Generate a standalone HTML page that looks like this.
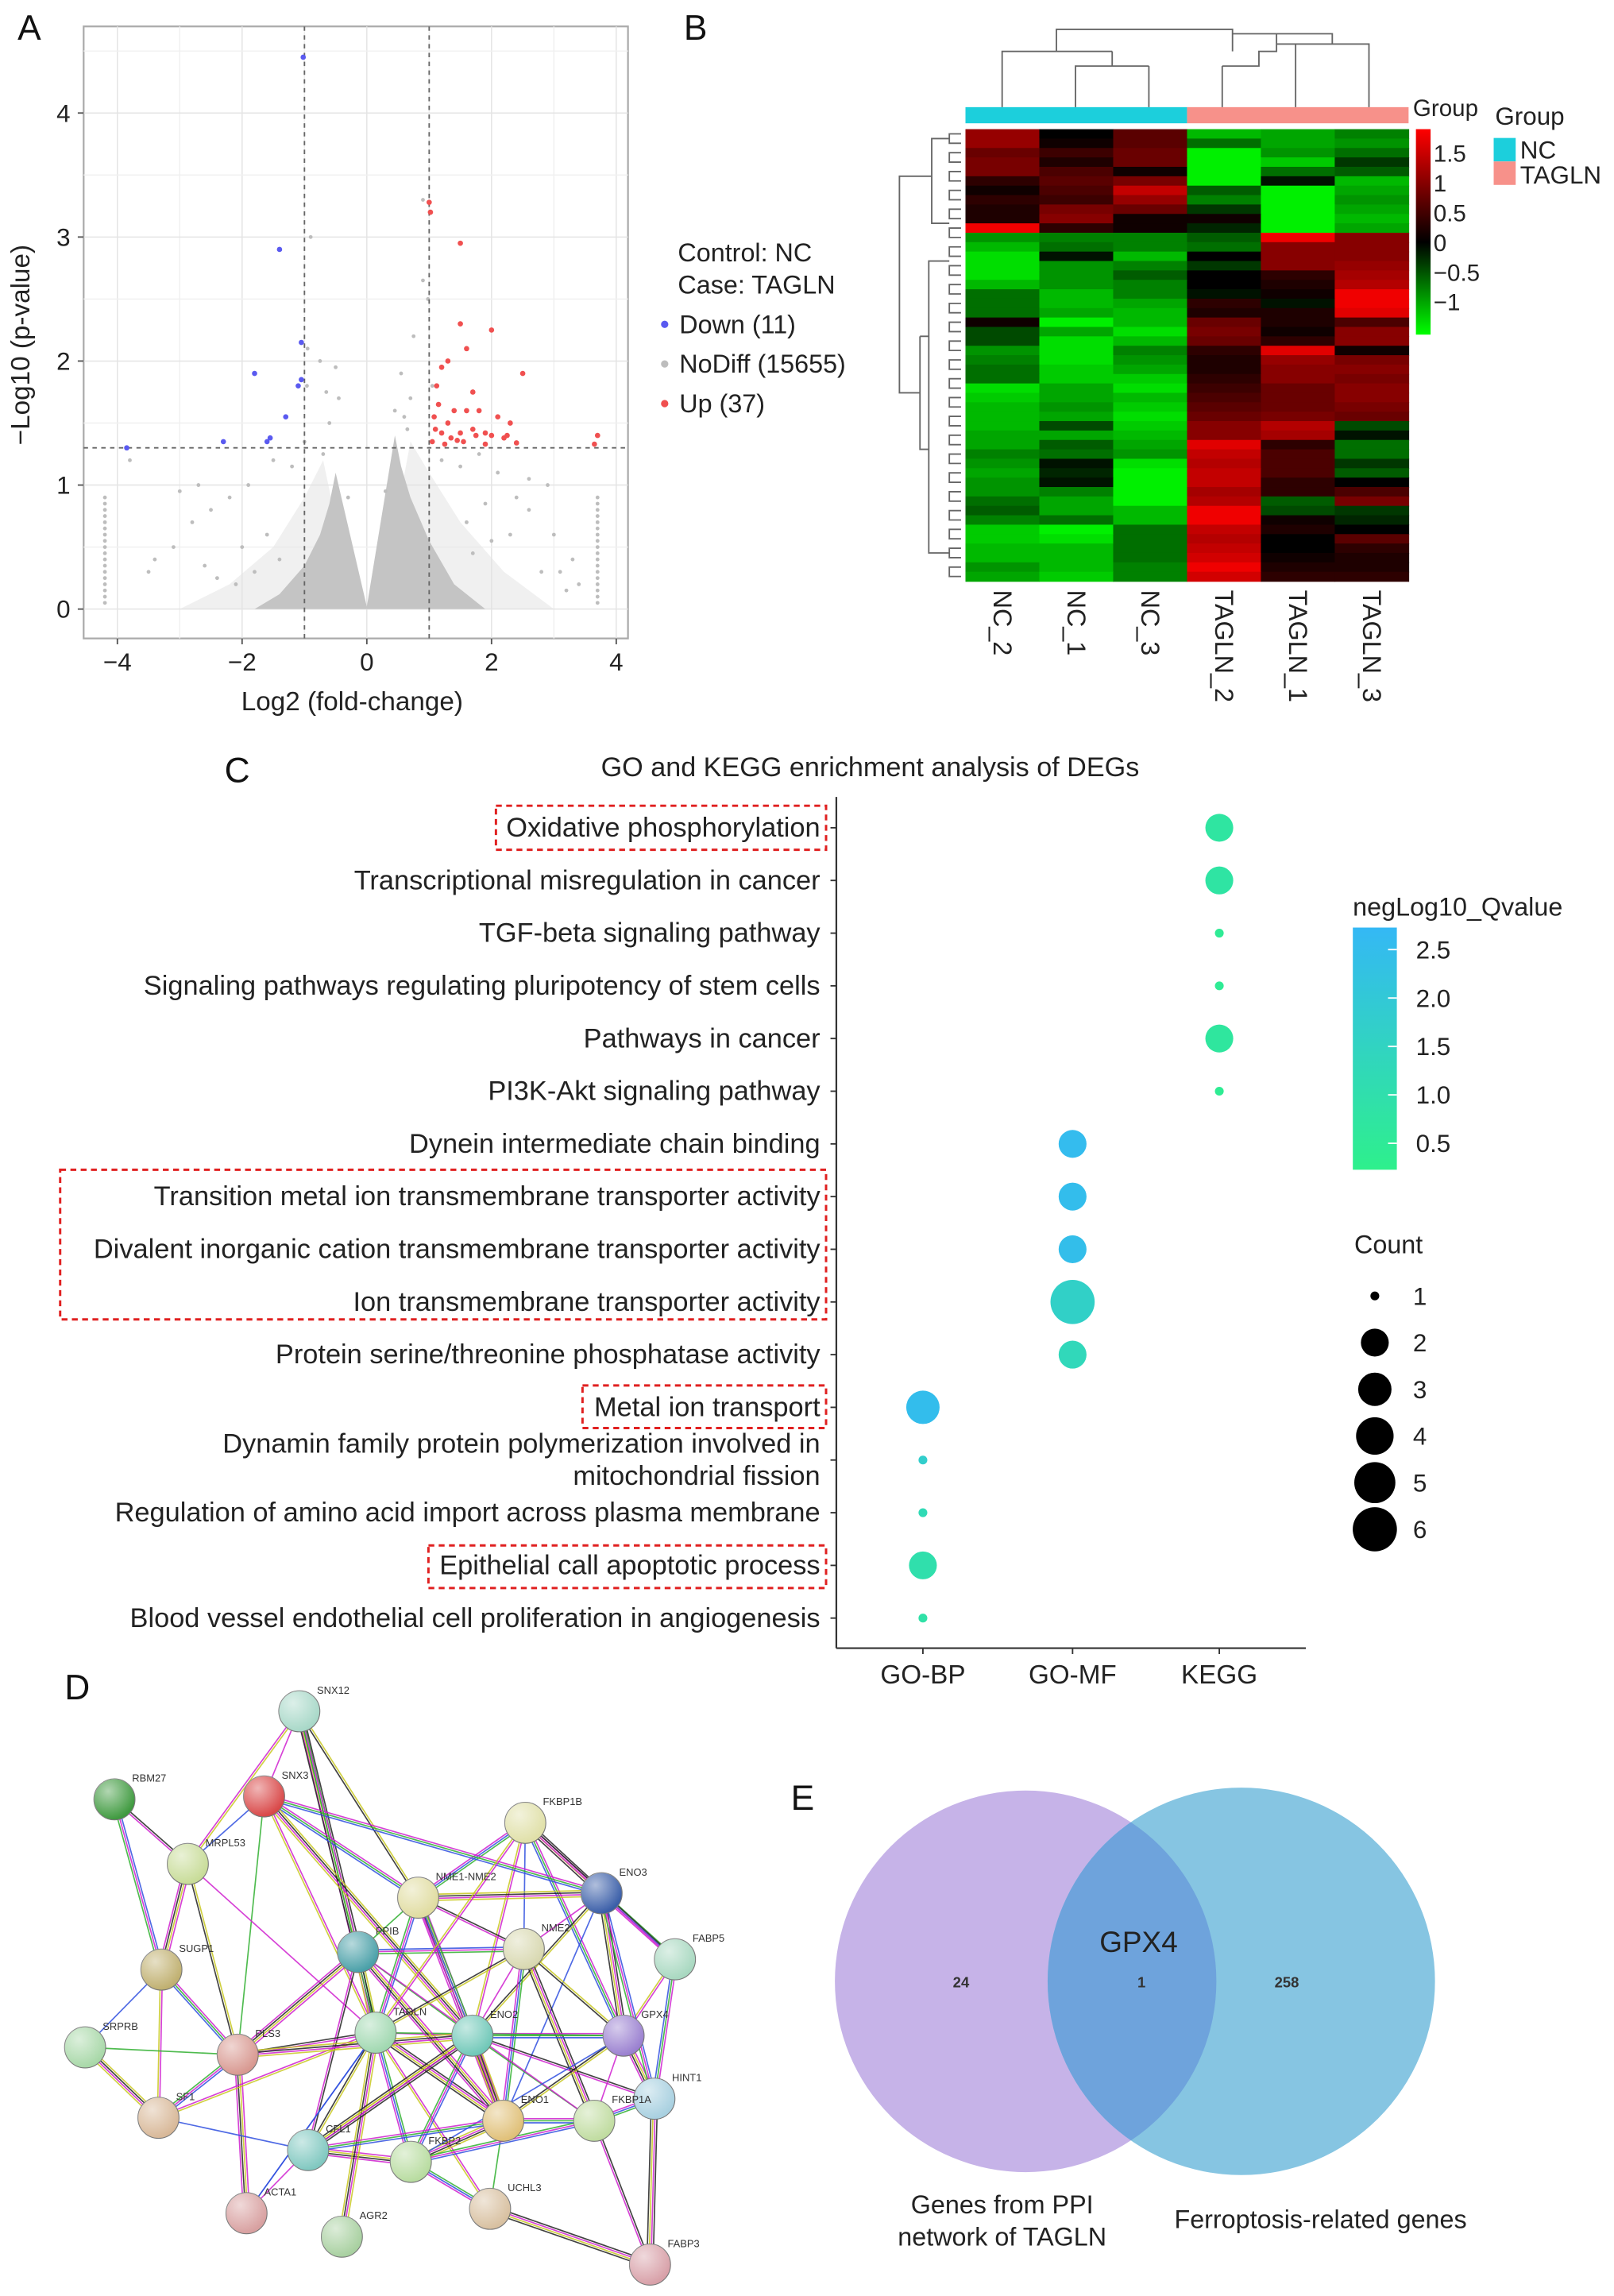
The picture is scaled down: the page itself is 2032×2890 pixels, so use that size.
<!DOCTYPE html>
<html><head><meta charset="utf-8"><style>
html,body{margin:0;padding:0;background:#fff}
svg{display:block}
text{font-family:"Liberation Sans",sans-serif}
</style></head><body>
<svg id="fig" xmlns="http://www.w3.org/2000/svg" width="2032" height="2890" viewBox="0 0 1100 1564.4" preserveAspectRatio="none">
<g id="pA"></g>
<g id="pB"></g>
<g id="pC"></g>
<g id="pD"></g>
<g id="pE"></g>
</svg>
<script>
// ---------- Panel A data ----------
const downX=[-1.02,-1.4,-1.05,-1.8,-1.05,-1.1,-1.3,-1.55,-1.6,-2.3,-3.85];
const downY=[4.45,2.9,2.15,1.9,1.85,1.8,1.55,1.38,1.35,1.35,1.3];
const upX=[1.0,1.02,1.5,1.5,2.0,1.6,1.3,1.2,2.5,1.7,1.4,1.6,1.8,2.1,2.3,1.1,1.2,1.5,1.9,2.0,2.2,1.05,3.7,1.3,1.15,1.7,2.25,1.35,1.08,1.25,1.45,1.9,2.4,1.12,1.55,1.75,3.65];
const upY=[3.28,3.2,2.95,2.3,2.25,2.1,2.0,1.95,1.9,1.75,1.6,1.6,1.6,1.55,1.5,1.45,1.42,1.42,1.42,1.4,1.38,1.35,1.4,1.5,1.65,1.45,1.4,1.38,1.55,1.33,1.36,1.33,1.34,1.8,1.35,1.4,1.33];
const grayX=[-0.95,-0.75,-0.5,0.55,0.75,0.9,-0.45,0.45,-2.2,-2.8,-3.1,-1.9,-1.5,-2.5,2.1,2.6,3.0,1.8,1.5,2.4,-3.5,3.3,-1.2,1.2,-0.3,0.3,-1.6,1.6,-2.0,2.0,-2.6,2.8,-0.6,0.6,0.98,-0.96,0.9,-0.9,-3.8,-3.4,-2.7,-2.1,-1.4,2.9,3.1,3.4,2.3,1.7,-0.7,-0.65,0.65,0.7,-1.0,1.05,-2.4,2.6,-1.8,1.9,-3.0,3.2];
const grayY=[2.1,2.0,1.95,1.9,2.2,3.3,1.7,1.6,0.9,0.7,0.5,1.0,1.2,0.8,1.1,0.8,0.6,1.25,1.15,0.9,0.3,0.4,1.15,1.2,0.9,0.95,0.6,0.7,0.5,0.55,0.35,0.3,1.5,1.55,2.5,1.8,2.65,3.0,1.2,0.4,1.0,0.2,0.4,1.0,0.3,0.2,0.6,0.45,1.25,1.75,1.45,1.7,1.35,1.8,0.25,1.05,0.3,0.85,0.95,0.15];
const colXL=-4.2, colXR=3.7;
const colY=[0.05,0.1,0.15,0.2,0.25,0.3,0.35,0.4,0.45,0.5,0.55,0.6,0.65,0.7,0.75,0.8,0.85,0.9];
const haloX=[-3.0,-2.2,-1.5,-1.0,-0.7,-0.2,0,0.2,0.7,1.0,1.5,2.2,3.0];
const haloY=[0,0.2,0.5,0.9,1.2,0,0,0,1.35,1.1,0.7,0.3,0];
const envX=[-1.8,-1.4,-1.0,-0.75,-0.6,-0.5,0,0.45,0.55,0.7,1.0,1.4,1.9];
const envY=[0,0.12,0.35,0.6,0.85,1.1,0.02,1.4,1.15,0.9,0.55,0.2,0];
const xTicksA=[-4,-2,0,2,4], yTicksA=[0,1,2,3,4];

// ---------- Panel B data ----------
const hmCols=["NC_2","NC_1","NC_3","TAGLN_2","TAGLN_1","TAGLN_3"];
const hmVals=[
[1.0,0.0,0.6,-1.0,-0.9,-0.7],[1.0,0.1,0.6,-0.6,-0.9,-0.8],[0.7,0.4,0.7,-1.3,-0.8,-0.6],[0.8,0.2,0.7,-1.3,-1.1,-0.3],[0.8,0.5,0.1,-1.4,-0.6,-0.5],[0.3,0.6,0.8,-1.4,-0.1,-1.0],[0.1,0.5,1.3,-0.5,-1.3,-0.9],[0.3,0.4,1.0,-0.7,-1.3,-0.8],[0.2,0.8,0.7,-0.3,-1.3,-0.9],[0.2,0.9,0.1,0.1,-1.3,-1.0],[1.6,0.3,0.1,-0.2,-1.3,-0.9],
[-0.8,-0.7,-0.7,-0.5,1.6,0.9],[-1.0,-0.6,-0.7,-0.6,0.9,0.9],[-1.2,-0.1,-1.0,0.0,0.9,0.9],[-1.2,-0.8,-0.7,-0.3,0.9,1.0],[-1.2,-0.8,-0.5,0.0,0.3,1.1],[-1.0,-0.8,-0.7,0.0,0.2,1.2],[-0.6,-1.0,-0.7,-0.1,0.1,1.6],[-0.6,-1.0,-0.9,0.3,-0.1,1.6],[-0.6,-0.9,-1.0,0.2,0.2,1.5],
[0.1,-1.4,-1.0,0.7,0.2,0.5],[-0.4,-0.9,-1.2,0.8,0.1,0.9],[-0.4,-1.2,-1.0,0.7,0.3,0.9],[-0.8,-1.2,-0.7,0.3,1.5,0.1],[-0.7,-1.2,-0.8,0.2,1.0,0.8],[-0.6,-1.1,-0.9,0.2,0.9,0.9],[-0.6,-1.1,-1.1,0.3,0.9,0.8],[-1.2,-0.9,-1.2,0.4,0.7,0.9],[-1.1,-0.9,-1.0,0.5,0.7,0.9],[-1.0,-0.8,-1.1,0.6,0.7,0.8],
[-1.0,-0.9,-1.2,0.7,0.8,0.7],[-1.0,-0.4,-1.1,0.9,1.2,-0.4],[-0.9,-0.9,-1.0,0.9,1.1,-0.1],[-0.9,-0.5,-0.9,1.5,0.3,-0.6],[-0.7,-0.6,-0.8,1.3,0.5,-0.6],[-0.8,-0.1,-1.2,1.2,0.5,-0.3],[-0.9,-0.2,-1.3,1.3,0.5,-0.5],[-0.8,-0.1,-1.4,1.3,0.3,0.0],[-0.8,-0.7,-1.3,1.1,0.3,0.5],
[-0.6,-0.9,-1.3,1.2,-0.5,0.8],[-0.5,-0.9,-1.0,1.6,-0.4,-0.3],[-0.7,-0.6,-1.0,1.6,0.1,-0.2],[-1.1,-1.3,-0.6,1.3,0.2,0.0],[-1.1,-1.2,-0.6,1.2,0.0,0.6],[-1.0,-1.0,-0.6,1.3,0.0,0.3],[-1.0,-1.0,-0.6,1.4,0.1,0.2],[-0.8,-1.0,-0.7,1.6,0.2,0.2],[-0.9,-1.1,-0.7,1.4,0.3,0.3]];
const hmLegendTicks=[1.5,1,0.5,0,-0.5,-1];
const hmLegendLabels=["1.5","1","0.5","0","\u22120.5","\u22121"];

// ---------- Panel C data ----------
const terms=["Oxidative phosphorylation","Transcriptional misregulation in cancer","TGF-beta signaling pathway","Signaling pathways regulating pluripotency of stem cells","Pathways in cancer","PI3K-Akt signaling pathway","Dynein intermediate chain binding","Transition metal ion transmembrane transporter activity","Divalent inorganic cation transmembrane transporter activity","Ion transmembrane transporter activity","Protein serine/threonine phosphatase activity","Metal ion transport","Dynamin family protein polymerization involved in|mitochondrial fission","Regulation of amino acid import across plasma membrane","Epithelial call apoptotic process","Blood vessel endothelial cell proliferation in angiogenesis"];
const termCat=["KEGG","KEGG","KEGG","KEGG","KEGG","KEGG","GO-MF","GO-MF","GO-MF","GO-MF","GO-MF","GO-BP","GO-BP","GO-BP","GO-BP","GO-BP"];
const termCount=[2,2,1,1,2,1,2,2,2,6,2,3,1,1,2,1];
const termQ=[0.75,0.8,0.5,0.5,0.7,0.45,2.45,2.4,2.35,1.6,1.3,2.4,1.7,1.2,1.0,0.9];
const cats=["GO-BP","GO-MF","KEGG"];
const qTicks=[2.5,2.0,1.5,1.0,0.5];
const countTicks=[1,2,3,4,5,6];

// ---------- Panel D data ----------
const nodeNames=["SNX12","RBM27","SNX3","MRPL53","FKBP1B","NME1-NME2","ENO3","FABP5","PPIB","NME2","SUGP1","SRPRB","PLS3","TAGLN","ENO2","GPX4","HINT1","SF1","ENO1","FKBP1A","CFL1","FKBP2","ACTA1","AGR2","UCHL3","FABP3"];
const nodeX=[204,78,180,128,358,285,410,460,244,357,110,58,162,256,322,425,446,108,343,405,210,280,168,233,334,443];
const nodeY=[1166,1226,1224,1270,1242,1293,1290,1335,1330,1328,1342,1395,1400,1385,1387,1387,1430,1443,1445,1445,1465,1473,1508,1524,1505,1543];
const nodeCol=["#a8d8c8","#3f9a3f","#d94848","#c8dc98","#e0e0a8","#e0dca0","#3a5ea8","#a8d8c0","#4aa0a8","#d8d8b0","#c0b070","#a8d8a8","#d89890","#a0d8b0","#70c8b8","#9a80d0","#a8d0e0","#d8b898","#e0c078","#c0dca0","#80c8c0","#b8dca0","#d8a0a0","#a8d0a0","#d8c0a0","#d8a0a8"];
const edgeA=["SNX12","SNX12","SNX12","SNX12","SNX3","SNX3","SNX3","SNX3","SNX3","RBM27","RBM27","MRPL53","MRPL53","MRPL53","FKBP1B","FKBP1B","FKBP1B","FKBP1B","FKBP1B","NME1-NME2","NME1-NME2","NME1-NME2","NME1-NME2","NME1-NME2","ENO3","ENO3","ENO3","ENO3","ENO3","FABP5","FABP5","PPIB","PPIB","PPIB","PPIB","PPIB","NME2","NME2","NME2","NME2","SUGP1","SUGP1","SUGP1","SRPRB","SRPRB","PLS3","PLS3","PLS3","TAGLN","TAGLN","TAGLN","TAGLN","TAGLN","TAGLN","ENO2","ENO2","ENO2","ENO2","ENO2","GPX4","GPX4","GPX4","HINT1","HINT1","SF1","SF1","ENO1","ENO1","ENO1","FKBP1A","FKBP1A","CFL1","CFL1","CFL1","FKBP2","UCHL3","ACTA1","MRPL53","SNX3","AGR2","TAGLN","FKBP1B","ENO3","PPIB","PPIB","NME2","NME1-NME2","ENO2","GPX4","FKBP1B","CFL1","PLS3","SNX12"];
const edgeB=["SNX3","NME1-NME2","TAGLN","PPIB","MRPL53","TAGLN","NME1-NME2","ENO2","PLS3","MRPL53","SUGP1","SUGP1","TAGLN","PLS3","NME1-NME2","ENO3","NME2","ENO2","GPX4","ENO3","PPIB","NME2","TAGLN","ENO1","NME2","ENO2","FABP5","GPX4","ENO1","GPX4","HINT1","TAGLN","ENO2","CFL1","NME2","PLS3","ENO2","GPX4","ENO1","FKBP1A","SRPRB","SF1","PLS3","SF1","PLS3","TAGLN","SF1","ACTA1","ENO2","CFL1","FKBP2","ENO1","ACTA1","UCHL3","GPX4","ENO1","FKBP1A","HINT1","FKBP2","HINT1","FKBP1A","ENO1","FKBP1A","FABP3","CFL1","TAGLN","FKBP1A","FKBP2","UCHL3","FABP3","FKBP2","FKBP2","ACTA1","ENO2","UCHL3","FABP3","TAGLN","SNX12","ENO3","TAGLN","GPX4","FABP5","HINT1","ENO1","FKBP1A","TAGLN","ENO2","CFL1","FKBP2","TAGLN","ENO1","ENO2","TAGLN"];

// ---------- Panel E data ----------
const vennSets=["Genes from PPI network of TAGLN","Ferroptosis-related genes"];
const vennOnlyA=24, vennBoth=1, vennOnlyB=258;

const NS="http://www.w3.org/2000/svg";
function mk(parent,tag,attrs,txt){const e=document.createElementNS(NS,tag);for(const k in attrs)e.setAttribute(k,attrs[k]);if(txt!==undefined)e.textContent=txt;parent.appendChild(e);return e;}

// ================= Panel A =================
(function(){
const g=document.getElementById('pA');
const x0=57,x1=428,y0=18,y1=435;
const X=v=>250+v*42.5, Y=v=>415-v*84.5;
const bg=mk(g,'rect',{x:x0,y:y0,width:x1-x0,height:y1-y0,fill:'#fff',stroke:'#aaa','stroke-width':1.2});


for(let v=-5;v<=5;v++){const xx=X(v);if(xx>x0&&xx<x1)mk(g,'line',{x1:xx,x2:xx,y1:y0,y2:y1,stroke:v%2===0?'#e4e4e4':'#f0f0f0','stroke-width':0.8});}
for(let v=0;v<=4.5;v+=0.5){const yy=Y(v);if(yy>y0&&yy<y1)mk(g,'line',{x1:x0,x2:x1,y1:yy,y2:yy,stroke:v%1===0?'#e4e4e4':'#f0f0f0','stroke-width':0.8});}
function poly(xs,ys){let d='M'+X(xs[0])+','+Y(0);xs.forEach((v,i)=>{d+=' L'+X(v)+','+Y(ys[i]);});return d+' L'+X(xs[xs.length-1])+','+Y(0)+' Z';}
const halo=mk(g,'path',{d:poly(haloX,haloY),fill:'#e2e2e2',opacity:0.5});


const env=mk(g,'path',{d:poly(envX,envY),fill:'#c4c4c4'});


grayX.forEach((v,i)=>{const c=mk(g,'circle',{cx:X(v),cy:Y(grayY[i]),r:1.3,fill:'#bdbdbd'});

});
colY.forEach(v=>{[colXL,colXR].forEach(xv=>{const c=mk(g,'circle',{cx:X(xv),cy:Y(v),r:1.3,fill:'#bdbdbd'});

});});
mk(g,'line',{x1:X(-1),x2:X(-1),y1:y0,y2:y1,stroke:'#666','stroke-dasharray':'3,3','stroke-width':1});
mk(g,'line',{x1:X(1),x2:X(1),y1:y0,y2:y1,stroke:'#666','stroke-dasharray':'3,3','stroke-width':1});
mk(g,'line',{x1:x0,x2:x1,y1:Y(1.3),y2:Y(1.3),stroke:'#666','stroke-dasharray':'3,3','stroke-width':1});
downX.forEach((v,i)=>{const c=mk(g,'circle',{cx:X(v),cy:Y(downY[i]),r:1.8,fill:'#5a5af0'});

});
upX.forEach((v,i)=>{const c=mk(g,'circle',{cx:X(v),cy:Y(upY[i]),r:1.8,fill:'#f05050'});

});
xTicksA.forEach(v=>{mk(g,'line',{x1:X(v),x2:X(v),y1:y1,y2:y1+4,stroke:'#555'});const t=mk(g,'text',{x:X(v),y:y1+22,'font-size':17,'text-anchor':'middle',fill:'#222'},v<0?'\u2212'+(-v):String(v));

});
yTicksA.forEach(v=>{mk(g,'line',{x1:x0-4,x2:x0,y1:Y(v),y2:Y(v),stroke:'#555'});const t=mk(g,'text',{x:x0-9,y:Y(v)+6,'font-size':17,'text-anchor':'end',fill:'#222'},String(v));

});
const xt=mk(g,'text',{x:240,y:484,'font-size':18,'text-anchor':'middle',fill:'#222'},'Log2 (fold-change)');


const yt=mk(g,'text',{x:0,y:0,'font-size':18,'text-anchor':'middle',fill:'#222',transform:'translate(20,235) rotate(-90)'},'\u2212Log10 (p-value)');


const la=mk(g,'text',{x:12,y:27,'font-size':24,fill:'#111'},'A');


const lg=mk(g,'g',{});


mk(lg,'text',{x:462,y:178,'font-size':17.5,fill:'#222'},'Control: NC');
mk(lg,'text',{x:462,y:200,'font-size':17.5,fill:'#222'},'Case: TAGLN');
const items=[['#5a5af0','Down (11)'],['#bdbdbd','NoDiff (15655)'],['#f05050','Up (37)']];
items.forEach((it,i)=>{const yy=221+i*27;mk(lg,'circle',{cx:453,cy:yy,r:2.5,fill:it[0]});const t=mk(lg,'text',{x:463,y:yy+6,'font-size':17.5,fill:'#222'},it[1]);

});
})();

// ================= Panel B =================
(function(){
const g=document.getElementById('pB');
const hx0=658,hx1=960,hy0=88,hy1=396;
const cw=(hx1-hx0)/hmCols.length, rh=(hy1-hy0)/hmVals.length;
function col(v){const t=Math.max(-1,Math.min(1,v<0?v/1.3:v/1.6));
if(t>=0)return 'rgb('+Math.round(240*t)+',0,0)';return 'rgb(0,'+Math.round(240*-t)+',0)';}
hmVals.forEach((row,i)=>row.forEach((v,j)=>{const r=mk(g,'rect',{x:hx0+j*cw,y:hy0+i*rh,width:cw+0.4,height:rh+0.4,fill:col(v)});

}));
const gb1=mk(g,'rect',{x:hx0,y:73,width:cw*3,height:11,fill:'#1ccfdc'});


const gb2=mk(g,'rect',{x:hx0+cw*3,y:73,width:cw*3,height:11,fill:'#f7918a'});


const dd=mk(g,'path',{d:'M683,73 V35 H758 M733,73 V45 H783 M783,73 V45 M758,45 V35 M720,35 V20 H840 V35 M833,73 V45 M883,73 V30 H933 V73 M908,30 V23 H840 M833,45 H858 V35 H870 V23 M870,35 V30 H908',fill:'none',stroke:'#666','stroke-width':1});


let p='';const cx=hx0-3;
for(let i=0;i<hmVals.length;i+=2){const a=hy0+(i+0.5)*rh,b=hy0+(i+1.5)*rh;p+=`M${cx},${a} H${cx-8} V${b} H${cx}`;}
p+=`M${cx-8},${hy0+rh} H${cx-20} V${hy0+10*rh} H${cx-8} M${cx-20},${hy0+5*rh} H${cx-42} V${hy0+28*rh} H${cx-28} M${cx-8},${hy0+14*rh} H${cx-22} V${hy0+45*rh} H${cx-8} M${cx-22},${hy0+22*rh} H${cx-28} M${cx-28},${hy0+22*rh} V${hy0+34*rh} H${cx-22}`;
const ld=mk(g,'path',{d:p,fill:'none',stroke:'#666','stroke-width':1});


hmCols.forEach((c,j)=>{const t=mk(g,'text',{x:0,y:0,'font-size':17.5,fill:'#222',transform:`translate(${hx0+(j+0.5)*cw-6},402) rotate(90)`},c);

});
const defs=mk(g,'defs',{});
const lgd=mk(defs,'linearGradient',{id:'hmg',x1:0,y1:0,x2:0,y2:1});
mk(lgd,'stop',{offset:'0','stop-color':'#ff0000'});mk(lgd,'stop',{offset:'0.55','stop-color':'#000'});mk(lgd,'stop',{offset:'1','stop-color':'#00ff00'});
const cb=mk(g,'rect',{x:965,y:88,width:10,height:140,fill:'url(#hmg)'});


const LY=v=>165-v*40.5;
hmLegendTicks.forEach((v,i)=>{const t=mk(g,'text',{x:977,y:LY(v)+6,'font-size':16,fill:'#222'},hmLegendLabels[i]);

});
mk(g,'text',{x:963,y:79,'font-size':16,fill:'#222'},'Group');
mk(g,'text',{x:1019,y:85,'font-size':17,fill:'#222'},'Group');
const s1=mk(g,'rect',{x:1018,y:94,width:15,height:16,fill:'#1ccfdc'});


const s2=mk(g,'rect',{x:1018,y:110,width:15,height:16,fill:'#f7918a'});


mk(g,'text',{x:1036,y:108,'font-size':17,fill:'#222'},'NC');
mk(g,'text',{x:1036,y:125,'font-size':17,fill:'#222'},'TAGLN');
const lb=mk(g,'text',{x:466,y:27,'font-size':24,fill:'#111'},'B');


})();

// ================= Panel C =================
(function(){
const g=document.getElementById('pC');
const px0=570,px1=890,py0=543,py1=1123;
const catX={"GO-BP":629,"GO-MF":731,"KEGG":831};
const rowY=i=>564+i*35.9;
const R=c=>3+Math.sqrt(c-1)*4.5+ (c>1?2:0);
function qcol(q){const t=Math.max(0,Math.min(1,(q-0.3)/2.3));
const a=[46,240,140],b=[52,184,245];return 'rgb('+a.map((v,k)=>Math.round(v+(b[k]-v)*t)).join(',')+')';}
const title=mk(g,'text',{x:593,y:529,'font-size':18.5,'text-anchor':'middle',fill:'#222'},'GO and KEGG enrichment analysis of DEGs');


mk(g,'line',{x1:px0,x2:px0,y1:py0,y2:py1,stroke:'#333','stroke-width':1.2});
mk(g,'line',{x1:px0,x2:px1,y1:py1,y2:py1,stroke:'#333','stroke-width':1.2});
terms.forEach((t,i)=>{const y=rowY(i);mk(g,'line',{x1:px0-4,x2:px0,y1:y,y2:y,stroke:'#333'});
const parts=t.split('|');
parts.forEach((pt,k)=>{const tx=mk(g,'text',{x:559,y:y+6+(parts.length>1?(k-0.5)*22:0),'font-size':18.6,'text-anchor':'end',fill:'#222'},pt);

});
const c=mk(g,'circle',{cx:catX[termCat[i]],cy:y,r:R(termCount[i]),fill:qcol(termQ[i])});

});
cats.forEach(c=>{mk(g,'line',{x1:catX[c],x2:catX[c],y1:py1,y2:py1+4,stroke:'#333'});const t=mk(g,'text',{x:catX[c],y:py1+24,'font-size':18,'text-anchor':'middle',fill:'#222'},c);

});
const boxes=[[338,549,225,30],[41,797,522,102],[397,944,166,29],[292,1053,271,29]];
boxes.forEach(b=>{const r=mk(g,'rect',{x:b[0],y:b[1],width:b[2],height:b[3],fill:'none',stroke:'#e02020','stroke-width':1.6,'stroke-dasharray':'4,3'});

});
mk(g,'text',{x:922,y:624,'font-size':17.5,fill:'#222'},'negLog10_Qvalue');
const defs=mk(g,'defs',{});
const lgd=mk(defs,'linearGradient',{id:'qg',x1:0,y1:0,x2:0,y2:1});
mk(lgd,'stop',{offset:'0','stop-color':qcol(2.72)});mk(lgd,'stop',{offset:'1','stop-color':qcol(0.22)});
const qb=mk(g,'rect',{x:922,y:632,width:30,height:165,fill:'url(#qg)'});


const QY=v=>647+(2.5-v)*66;
qTicks.forEach(v=>{mk(g,'line',{x1:946,x2:952,y1:QY(v),y2:QY(v),stroke:'#fff'});const t=mk(g,'text',{x:965,y:QY(v)+6,'font-size':17,fill:'#222'},v.toFixed(1));

});
mk(g,'text',{x:923,y:854,'font-size':17.5,fill:'#222'},'Count');
countTicks.forEach((c,i)=>{const y=883+i*31.8;const d=mk(g,'circle',{cx:937,cy:y,r:R(c),fill:'#000'});


mk(g,'text',{x:963,y:y+6,'font-size':17,fill:'#222'},String(c));});
const lc=mk(g,'text',{x:153,y:533,'font-size':24,fill:'#111'},'C');


})();

// ================= Panel D =================
(function(){
const g=document.getElementById('pD');
const idx={};nodeNames.forEach((n,i)=>idx[n]=i);
const ecols=['#d020d0','#c8c820','#30b030','#222','#3050e0','#d020d0'];
edgeA.forEach((a,k)=>{const i=idx[a],j=idx[edgeB[k]];const x1=nodeX[i],y1=nodeY[i],x2=nodeX[j],y2=nodeY[j];
const L=Math.hypot(x2-x1,y2-y1)||1,nx=-(y2-y1)/L,ny=(x2-x1)/L;const n=1+(k%4);
for(let s=0;s<n;s++){const o=(s-(n-1)/2)*1.4;const l=mk(g,'line',{x1:x1+nx*o,y1:y1+ny*o,x2:x2+nx*o,y2:y2+ny*o,stroke:ecols[(k+s*2)%ecols.length],'stroke-width':0.9,opacity:0.85});

}});
const defs=mk(g,'defs',{});
const rg=mk(defs,'radialGradient',{id:'shine',cx:'0.35',cy:'0.3',r:'0.7'});
mk(rg,'stop',{offset:'0','stop-color':'#fff','stop-opacity':'0.6'});mk(rg,'stop',{offset:'1','stop-color':'#fff','stop-opacity':'0'});
nodeNames.forEach((n,i)=>{const c=mk(g,'circle',{cx:nodeX[i],cy:nodeY[i],r:14,fill:nodeCol[i],stroke:'#777','stroke-width':0.6});


mk(g,'circle',{cx:nodeX[i],cy:nodeY[i],r:14,fill:'url(#shine)'});
const t=mk(g,'text',{x:nodeX[i]+12,y:nodeY[i]-12,'font-size':7,fill:'#333'},n);

});
const ld=mk(g,'text',{x:44,y:1158,'font-size':24,fill:'#111'},'D');


})();

// ================= Panel E =================
(function(){
const g=document.getElementById('pE');
const defs=mk(g,'defs',{});
const cp=mk(defs,'clipPath',{id:'cl'});mk(cp,'circle',{cx:699,cy:1350,r:130});
const a=mk(g,'circle',{cx:699,cy:1350,r:130,fill:'#c6b3e8'});


const b=mk(g,'circle',{cx:846,cy:1350,r:132,fill:'#86c5e2'});


const o=mk(g,'circle',{cx:846,cy:1350,r:132,fill:'#6ea3dc','clip-path':'url(#cl)'});


mk(g,'text',{x:776,y:1330,'font-size':20,'text-anchor':'middle',fill:'#222'},'GPX4');
mk(g,'text',{x:655,y:1354,'font-size':10,'text-anchor':'middle','font-weight':'bold',fill:'#333'},String(vennOnlyA));
mk(g,'text',{x:778,y:1354,'font-size':10,'text-anchor':'middle','font-weight':'bold',fill:'#333'},String(vennBoth));
mk(g,'text',{x:877,y:1354,'font-size':10,'text-anchor':'middle','font-weight':'bold',fill:'#333'},String(vennOnlyB));
const l1=mk(g,'text',{x:683,y:1508,'font-size':17.5,'text-anchor':'middle',fill:'#222'},'Genes from PPI');


mk(g,'text',{x:683,y:1530,'font-size':17.5,'text-anchor':'middle',fill:'#222'},'network of TAGLN');
const l2=mk(g,'text',{x:900,y:1518,'font-size':17.5,'text-anchor':'middle',fill:'#222'},vennSets[1]);


const le=mk(g,'text',{x:539,y:1233,'font-size':24,fill:'#111'},'E');


})();
</script>
</body></html>
